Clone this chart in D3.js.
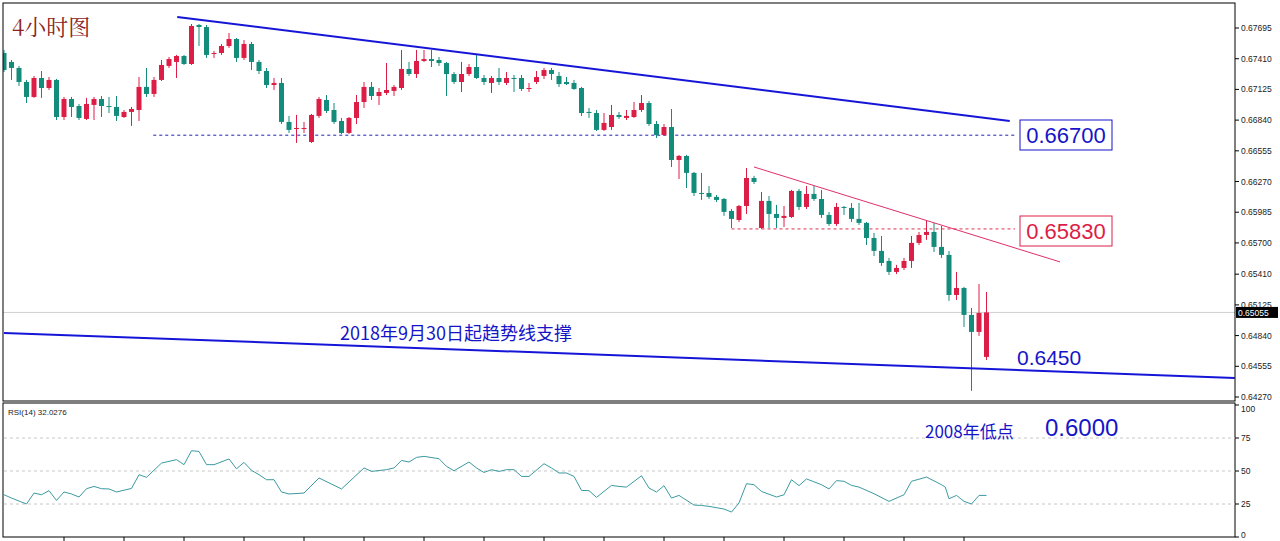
<!DOCTYPE html>
<html><head><meta charset="utf-8">
<script src="https://cdn.jsdelivr.net/npm/d3@7"></script>
<style>body{margin:0;background:#fff}svg{display:block}</style>
</head><body>
<svg id="c" width="1280" height="541"></svg>
<script>
// [open, high, low, close]
const candles = [
[0.67463,0.67491,0.67287,0.67305],[0.67380,0.67398,0.67213,0.67324],[0.67324,0.67343,0.67157,0.67194],[0.67194,0.67213,0.66999,0.67055],
[0.67055,0.67250,0.67046,0.67231],[0.67231,0.67296,0.67046,0.67138],[0.67138,0.67240,0.67120,0.67213],[0.67213,0.67222,0.66841,0.66869],
[0.66869,0.67055,0.66841,0.67036],[0.67036,0.67055,0.66869,0.66962],[0.66971,0.66990,0.66841,0.66860],[0.66851,0.67046,0.66841,0.66990],
[0.66981,0.67055,0.66841,0.67036],[0.67036,0.67064,0.66869,0.66971],[0.66971,0.67055,0.66906,0.66962],[0.66962,0.67064,0.66832,0.66879],
[0.66869,0.66934,0.66860,0.66916],[0.66916,0.66962,0.66786,0.66943],[0.66934,0.67240,0.66832,0.67148],[0.67148,0.67324,0.67055,0.67083],
[0.67083,0.67240,0.67055,0.67213],[0.67213,0.67398,0.67203,0.67352],[0.67343,0.67426,0.67324,0.67407],[0.67380,0.67445,0.67231,0.67435],
[0.67435,0.67445,0.67352,0.67361],[0.67361,0.67732,0.67352,0.67714],[0.67723,0.67732,0.67528,0.67704],[0.67704,0.67723,0.67417,0.67445],
[0.67454,0.67482,0.67417,0.67463],[0.67463,0.67547,0.67445,0.67528],[0.67528,0.67649,0.67510,0.67593],[0.67593,0.67602,0.67380,0.67417],
[0.67417,0.67584,0.67398,0.67547],[0.67547,0.67565,0.67305,0.67380],[0.67380,0.67398,0.67268,0.67296],[0.67296,0.67324,0.67138,0.67166],
[0.67166,0.67231,0.67120,0.67185],[0.67185,0.67231,0.66804,0.66823],[0.66823,0.66879,0.66721,0.66749],[0.66758,0.66888,0.66628,0.66767],
[0.66758,0.66823,0.66721,0.66767],[0.66637,0.66897,0.66628,0.66888],[0.66879,0.67055,0.66860,0.67036],[0.67027,0.67073,0.66906,0.66925],
[0.66934,0.66999,0.66804,0.66823],[0.66832,0.66860,0.66711,0.66721],[0.66721,0.66869,0.66711,0.66860],[0.66860,0.67073,0.66804,0.67008],
[0.67008,0.67194,0.66953,0.67148],[0.67148,0.67194,0.67027,0.67064],[0.67064,0.67138,0.66981,0.67101],[0.67092,0.67370,0.67073,0.67120],
[0.67111,0.67166,0.67064,0.67148],[0.67138,0.67491,0.67120,0.67315],[0.67315,0.67380,0.67250,0.67268],[0.67268,0.67491,0.67231,0.67389],
[0.67389,0.67491,0.67380,0.67407],[0.67407,0.67491,0.67333,0.67389],[0.67398,0.67426,0.67343,0.67370],[0.67370,0.67380,0.67064,0.67268],
[0.67268,0.67287,0.67175,0.67194],[0.67194,0.67380,0.67101,0.67268],[0.67268,0.67361,0.67250,0.67333],[0.67333,0.67445,0.67222,0.67231],
[0.67231,0.67259,0.67166,0.67194],[0.67185,0.67250,0.67092,0.67231],[0.67231,0.67324,0.67166,0.67194],[0.67185,0.67287,0.67166,0.67231],
[0.67231,0.67259,0.67101,0.67222],[0.67231,0.67259,0.67111,0.67129],[0.67129,0.67185,0.67101,0.67138],[0.67194,0.67296,0.67175,0.67240],
[0.67250,0.67324,0.67222,0.67305],[0.67305,0.67324,0.67213,0.67268],[0.67250,0.67287,0.67148,0.67175],[0.67194,0.67240,0.67166,0.67175],
[0.67185,0.67213,0.67120,0.67129],[0.67138,0.67148,0.66879,0.66906],[0.66916,0.66953,0.66860,0.66906],[0.66906,0.66934,0.66739,0.66749],
[0.66749,0.66906,0.66739,0.66814],[0.66776,0.66981,0.66749,0.66888],[0.66888,0.66916,0.66851,0.66869],[0.66860,0.66934,0.66841,0.66879],
[0.66869,0.67008,0.66860,0.66934],[0.66934,0.67073,0.66916,0.66999],[0.66999,0.67018,0.66786,0.66804],[0.66804,0.66832,0.66674,0.66702],
[0.66702,0.66804,0.66693,0.66776],[0.66776,0.66943,0.66405,0.66470],[0.66470,0.66517,0.66294,0.66507],[0.66507,0.66517,0.66210,0.66350],
[0.66350,0.66359,0.66136,0.66164],[0.66164,0.66350,0.66099,0.66155],[0.66164,0.66229,0.66108,0.66127],[0.66127,0.66145,0.66080,0.66099],
[0.66108,0.66118,0.65951,0.65988],[0.65997,0.66015,0.65839,0.65923],[0.65913,0.66053,0.65895,0.66043],[0.66043,0.66396,0.65969,0.66303],
[0.66303,0.66322,0.66247,0.66266],[0.65839,0.66173,0.65830,0.66090],[0.66090,0.66136,0.65839,0.65969],[0.65969,0.66053,0.65839,0.65932],
[0.65932,0.66043,0.65848,0.65951],[0.65941,0.66192,0.65932,0.66183],[0.66183,0.66201,0.66006,0.66034],[0.66034,0.66229,0.66015,0.66155],
[0.66155,0.66229,0.66090,0.66108],[0.66108,0.66192,0.65932,0.65960],[0.65960,0.65988,0.65858,0.65876],[0.65876,0.66071,0.65858,0.66034],
[0.66034,0.66043,0.65960,0.66025],[0.66025,0.66071,0.65895,0.65923],[0.65923,0.66071,0.65867,0.65886],[0.65886,0.65895,0.65681,0.65746],
[0.65746,0.65793,0.65579,0.65626],[0.65626,0.65765,0.65487,0.65514],[0.65533,0.65561,0.65403,0.65431],[0.65431,0.65496,0.65412,0.65468],
[0.65468,0.65561,0.65449,0.65533],[0.65533,0.65765,0.65468,0.65700],[0.65700,0.65802,0.65681,0.65774],[0.65774,0.65904,0.65728,0.65802],
[0.65802,0.65886,0.65616,0.65663],[0.65663,0.65858,0.65561,0.65589],[0.65589,0.65626,0.65162,0.65217],[0.65217,0.65431,0.65171,0.65282],
[0.65282,0.65292,0.64920,0.65032],[0.65032,0.65097,0.64327,0.64874],[0.64874,0.65319,0.64837,0.65050],[0.64642,0.65245,0.64614,0.65055]
];
const priceTicks = [0.67695,0.67410,0.67125,0.66840,0.66555,0.66270,0.65985,0.65700,0.65410,0.65125,0.64840,0.64555,0.64270];
const rsiTicks = [100,75,50,25,0];
const rsiIdx = [0,1,3,4,5,6,7,8,9,10,11,12,13,14,15,17,18,19,21,23,24,25,26,27,28,30,31,32,33,34,35,36,37,38,40,42,45,48,49,51,52,53,54,55,56,58,59,60,62,63,64,65,66,67,68,69,70,72,73,74,75,76,77,78,79,81,82,83,85,86,87,88,89,90,92,93,94,96,97,98,99,100,101,103,104,105,106,107,109,110,111,112,113,114,116,118,120,121,123,125,125.5,126,127,128,129,130,131];
const rsiVal = [32.0,29.5,25.0,33.3,32.0,35.1,27.7,34.1,32.6,30.3,36.6,38.3,36.6,36.4,34.1,36.8,47.2,45.2,56.0,58.6,54.8,65.4,64.8,54.8,54.8,59.1,51.7,56.5,50.5,47.2,43.4,43.4,34.1,32.6,33.3,44.7,36.4,52.3,49.7,51.0,52.3,58.0,56.8,60.3,61.1,59.3,53.5,50.2,56.8,52.3,48.9,51.0,49.7,51.0,51.0,45.9,45.9,55.5,52.3,48.5,48.5,45.9,35.3,35.1,30.0,39.1,38.3,37.8,46.4,37.1,34.1,38.9,29.5,31.5,24.2,23.9,23.2,21.2,18.9,25.8,40.4,39.6,34.5,30.3,32.0,43.4,38.9,44.0,39.6,36.4,42.7,42.2,39.1,37.8,32.8,27.0,32.0,42.2,45.4,39.6,37.8,29.0,31.5,27.0,25.0,31.5,31.5];
const upperTrend = [[23.1,0.67797],[134.1,0.66832]];
const supportTrend = [[0,0.64865],[164.1,0.64447]];
const redTrend = [[100,0.66405],[140.8,0.65524]];
const level6670 = {from:19.9,to:134.8,price:0.66700};
const level6583 = {from:97,to:134.8,price:0.65830};
const lastPrice = 0.65055;
const bottomTicks = [8,16,24,32,40,48,56,64,72,80,88,96,104,112,120,128];

const svg = d3.select('#c');
const L=3,R=1235,T=3,B=401,RT=403,RB=537;
const x = d3.scaleLinear().domain([0,131]).range([4,986.5]);
const y = d3.scaleLinear().domain([0.67695,0.64270]).range([28,397]);
const yr = d3.scaleLinear().domain([0,100]).range([537,405]);
const UP='#dc1e46', DN='#148c7c';

svg.append('clipPath').attr('id','cp').append('rect').attr('x',L).attr('y',T).attr('width',R-L).attr('height',B-T);
const g = svg.append('g').attr('clip-path','url(#cp)');

// last price line
g.append('line').attr('x1',L).attr('x2',R).attr('y1',y(lastPrice)).attr('y2',y(lastPrice)).attr('stroke','#d0d0d0');

// dashed levels
g.append('line').attr('x1',x(level6670.from)).attr('x2',x(level6670.to)).attr('y1',y(level6670.price)).attr('y2',y(level6670.price))
 .attr('stroke','#2020b0').attr('stroke-dasharray','3,3');
g.append('line').attr('x1',x(level6583.from)).attr('x2',x(level6583.to)).attr('y1',y(level6583.price)).attr('y2',y(level6583.price))
 .attr('stroke','#e03050').attr('stroke-dasharray','3,3');

// candles
const cg = g.selectAll('g.k').data(candles).join('g');
cg.append('line').attr('x1',(d,i)=>x(i)).attr('x2',(d,i)=>x(i)).attr('y1',d=>y(d[1])).attr('y2',d=>y(d[2]))
 .attr('stroke',d=>d[3]>=d[0]?UP:DN).attr('stroke-width',1);
cg.append('rect').attr('x',(d,i)=>x(i)-2.5).attr('width',5)
 .attr('y',d=>y(Math.max(d[0],d[3]))).attr('height',d=>Math.max(1,Math.abs(y(d[0])-y(d[3]))))
 .attr('fill',d=>d[3]>=d[0]?UP:DN);

// trend lines
const ln = d3.line().x(d=>x(d[0])).y(d=>y(d[1]));
g.append('path').attr('d',ln(upperTrend)).attr('stroke','#1515d8').attr('stroke-width',2).attr('fill','none');
g.append('path').attr('d',ln(supportTrend)).attr('stroke','#1515d8').attr('stroke-width',2).attr('fill','none');
g.append('path').attr('d',ln(redTrend)).attr('stroke','#e0306a').attr('stroke-width',1).attr('fill','none');

// borders
svg.append('rect').attr('x',L).attr('y',T).attr('width',R-L).attr('height',B-T).attr('fill','none').attr('stroke','#000');
svg.append('rect').attr('x',L).attr('y',RT).attr('width',R-L).attr('height',RB-RT).attr('fill','none').attr('stroke','#000');

// price axis
const ax = svg.append('g').attr('font-family','Liberation Sans, Arial').attr('font-size',8.5).attr('fill','#222');
priceTicks.forEach(p=>{
  ax.append('line').attr('x1',R).attr('x2',R+4).attr('y1',y(p)).attr('y2',y(p)).attr('stroke','#000');
  ax.append('text').attr('x',R+6).attr('y',y(p)+3).text(p.toFixed(5));
});
ax.append('rect').attr('x',R+1).attr('y',y(lastPrice)-5.5).attr('width',42).attr('height',11).attr('fill','#000');
ax.append('text').attr('x',R+3).attr('y',y(lastPrice)+3.5).attr('fill','#fff').text(lastPrice.toFixed(5));

// RSI pane
const rg = svg.append('g');
[75,50,25].forEach(v=>rg.append('line').attr('x1',L+1).attr('x2',R).attr('y1',yr(v)).attr('y2',yr(v)).attr('stroke','#c8c8c8').attr('stroke-dasharray','3,3'));
rsiTicks.forEach(v=>{
  rg.append('line').attr('x1',R).attr('x2',R+4).attr('y1',yr(v)).attr('y2',yr(v)).attr('stroke','#000');
  rg.append('text').attr('x',R+6).attr('y',Math.min(Math.max(yr(v)+3,412),538)).attr('font-family','Liberation Sans, Arial').attr('font-size',8.5).attr('fill','#222').text(v);
});
rg.append('path').attr('d',d3.line().x((d,i)=>x(rsiIdx[i])).y(d=>yr(d))(rsiVal)).attr('stroke','#3c9aa0').attr('fill','none').attr('stroke-width',1);
rg.append('text').attr('x',8).attr('y',415).attr('font-family','Liberation Sans, Arial').attr('font-size',8).attr('fill','#222').text('RSI(14) 32.0276');
bottomTicks.forEach(i=>rg.append('line').attr('x1',x(i)).attr('x2',x(i)).attr('y1',RB).attr('y2',RB+4).attr('stroke','#000'));

// annotations
const cjk = 'Noto Sans CJK SC, sans-serif';
svg.append('text').attr('x',12).attr('y',35).attr('font-family','Noto Serif CJK SC, DejaVu Serif, serif').attr('font-size',22).attr('fill','#8b2323').text('4小时图');
svg.append('rect').attr('x',1020).attr('y',120).attr('width',92).attr('height',30).attr('fill','#fff').attr('stroke','#1515c8');
svg.append('text').attr('x',1066).attr('y',143).attr('text-anchor','middle').attr('font-family','Liberation Sans, Arial').attr('font-size',22).attr('fill','#1515c8').text('0.66700');
svg.append('rect').attr('x',1020).attr('y',216).attr('width',92).attr('height',30).attr('fill','#fff').attr('stroke','#dc1e46');
svg.append('text').attr('x',1066).attr('y',239).attr('text-anchor','middle').attr('font-family','Liberation Sans, Arial').attr('font-size',22).attr('fill','#dc1e46').text('0.65830');
svg.append('text').attr('x',1017).attr('y',365).attr('font-family','Liberation Sans, Arial').attr('font-size',21).attr('fill','#1515c8').text('0.6450');
svg.append('text').attr('x',340).attr('y',340).attr('font-family',cjk).attr('font-size',18).attr('fill','#1515c8').text('2018年9月30日起趋势线支撑');
svg.append('text').attr('x',925).attr('y',438).attr('font-family',cjk).attr('font-size',17).attr('fill','#1515c8').text('2008年低点');
svg.append('text').attr('x',1045).attr('y',436).attr('font-family','Liberation Sans, Arial').attr('font-size',24).attr('fill','#1515c8').text('0.6000');
</script>
</body></html>
